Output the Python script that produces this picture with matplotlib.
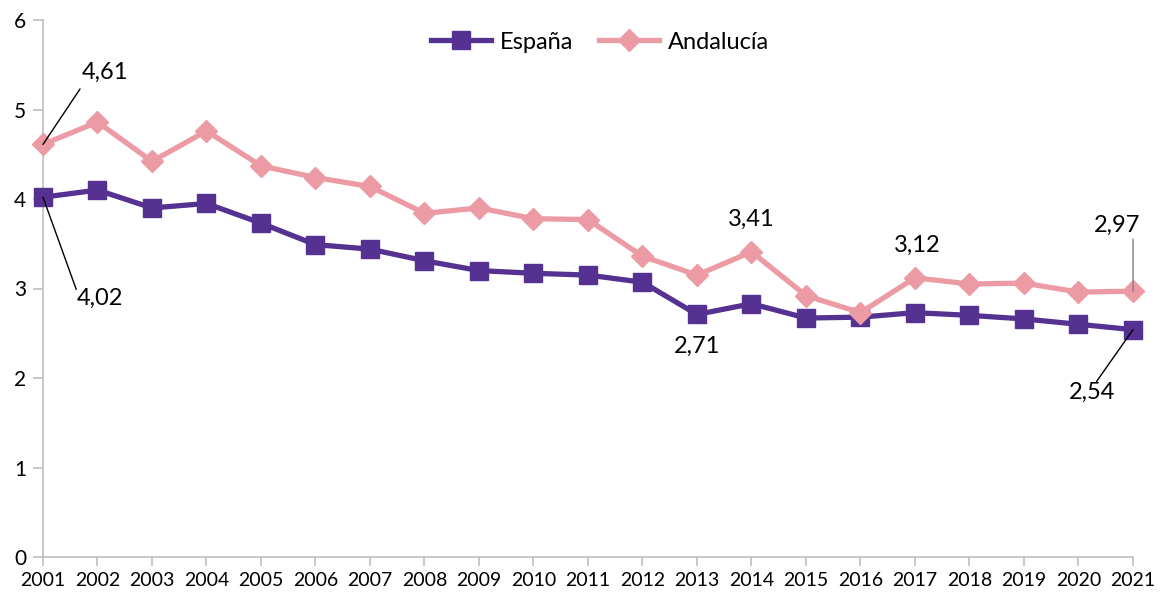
import matplotlib
matplotlib.use("Agg")
import matplotlib.pyplot as plt

years = list(range(2001, 2022))
espana = [4.02, 4.10, 3.90, 3.95, 3.73, 3.49, 3.44, 3.31, 3.20, 3.17, 3.15,
          3.07, 2.71, 2.83, 2.67, 2.68, 2.73, 2.70, 2.66, 2.60, 2.54]
andalucia = [4.61, 4.86, 4.42, 4.76, 4.37, 4.24, 4.14, 3.84, 3.90, 3.78, 3.77,
             3.36, 3.15, 3.41, 2.92, 2.73, 3.12, 3.05, 3.06, 2.96, 2.97]
y_ticks = [0, 1, 2, 3, 4, 5, 6]

plt.rcParams['font.family'] = ['Lato', 'DejaVu Sans']

purple = '#553291'
pink = '#EC9AA3'
axis_grey = '#BFBFBF'

fig = plt.figure(figsize=(11.66, 6.01), dpi=100)
ax = fig.add_axes([43 / 1166, 44 / 601, (1133 - 43) / 1166, (557 - 20) / 601])

ax.plot(years, espana, color=purple, lw=3.8, marker='s', ms=13.5,
        mec=purple, mfc=purple, label='España', zorder=3, clip_on=False)
ax.plot(years, andalucia, color=pink, lw=3.8, marker='D', ms=11,
        mec=pink, mfc=pink, label='Andalucía', zorder=4, clip_on=False)

ax.set_xlim(2001, 2021)
ax.set_ylim(0, 6)
ax.set_xticks(years)
ax.set_xticklabels([str(y) for y in years])
ax.set_yticks(y_ticks)

for side in ('top', 'right'):
    ax.spines[side].set_visible(False)
for side in ('left', 'bottom'):
    ax.spines[side].set_color(axis_grey)
    ax.spines[side].set_linewidth(1.2)
ax.tick_params(axis='x', direction='out', length=6.5, width=1.2, color=axis_grey,
               labelsize=14, pad=4)
ax.tick_params(axis='y', direction='out', length=7, width=1.2, color=axis_grey,
               labelsize=15, pad=5)

ax.legend(loc='center', bbox_to_anchor=(0.511, 0.959), ncol=2,
          frameon=False, fontsize=17, handlelength=2.55,
          columnspacing=1.1, handletextpad=0.35)

fmt = lambda v: f"{v:.2f}".replace('.', ',')


def value_label(idx, series, text_xy, leader_end=None, color='black'):
    x, y = years[idx], series[idx]
    if leader_end is not None:
        ax.annotate('', xy=(x, y), xytext=leader_end, textcoords='data',
                    arrowprops=dict(arrowstyle='-', color=color, lw=1.0,
                                    shrinkA=0, shrinkB=0), zorder=6)
    ax.text(*text_xy, fmt(y), ha='center', va='center', fontsize=17, zorder=6)


value_label(0, andalucia, (2002.14, 5.42), leader_end=(2001.68, 5.23))
value_label(0, espana, (2002.05, 2.89), leader_end=(2001.61, 2.99))
value_label(12, espana, (2013.0, 2.35))
value_label(13, andalucia, (2014.0, 3.77))
value_label(16, andalucia, (2017.04, 3.48))
value_label(20, andalucia, (2020.71, 3.71), leader_end=(2021.0, 3.55),
            color='#7F7F7F')
value_label(20, espana, (2020.25, 1.84), leader_end=(2020.33, 1.96))

fig.savefig('out.png', dpi=100)
